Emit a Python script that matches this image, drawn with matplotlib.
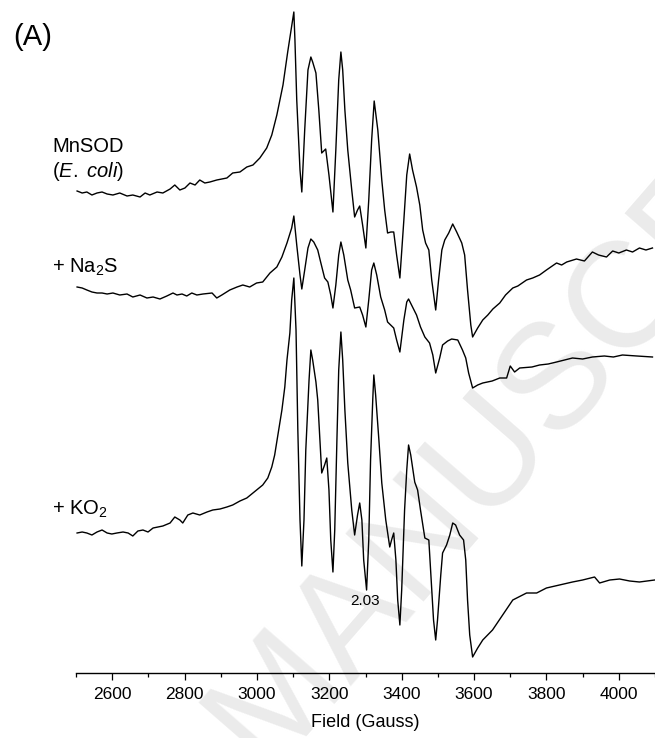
import matplotlib
matplotlib.use("Agg")
import matplotlib.pyplot as plt
import numpy as np

plt.rcParams['font.family'] = ['Liberation Sans', 'DejaVu Sans']
plt.rcParams['mathtext.fontset'] = 'custom'
plt.rcParams['mathtext.rm'] = 'Liberation Sans'
plt.rcParams['mathtext.it'] = 'Liberation Sans:italic'
plt.rcParams['mathtext.default'] = 'regular'

# ---------------- data (Field in Gauss, intensity in arbitrary units) ----------------
field_mnsod = [2503, 2517, 2530, 2544, 2558, 2572, 2586, 2602, 2621, 2641,
               2657, 2677, 2691, 2704, 2724, 2740, 2760, 2773, 2787, 2801,
               2815, 2829, 2842, 2856, 2870, 2889, 2917, 2933, 2953, 2972,
               2989, 3008, 3027, 3041, 3055, 3072, 3085, 3102, 3105, 3110,
               3119, 3124, 3132, 3141, 3149, 3154, 3163, 3171, 3179, 3190,
               3199, 3210, 3218, 3226, 3232, 3237, 3243, 3251, 3262, 3270,
               3278, 3284, 3292, 3301, 3309, 3317, 3324, 3334, 3345, 3353,
               3361, 3370, 3378, 3386, 3395, 3406, 3414, 3422, 3430, 3441,
               3450, 3458, 3466, 3475, 3483, 3494, 3502, 3511, 3519, 3530,
               3541, 3552, 3566, 3574, 3582, 3591, 3596, 3610, 3624, 3638,
               3652, 3671, 3687, 3707, 3721, 3745, 3762, 3781, 3800, 3828,
               3842, 3856, 3883, 3905, 3927, 3944, 3966, 3983, 4000, 4021,
               4038, 4057, 4075, 4093]
int_mnsod = [0, -2, -1, -4, -2, -1, -3, -4, -2, -5,
             -4, -6, -2, -4, -1, -2, 2, 6, 1, 3,
             8, 6, 11, 8, 9, 11, 13, 18, 19, 24,
             26, 33, 43, 56, 76, 106, 139, 179, 151, 91,
             21, -1, 61, 121, 134, 129, 118, 81, 38, 42,
             16, -21, 41, 111, 139, 121, 81, 41, 1, -26,
             -19, -15, -34, -57, -9, 51, 90, 61, 11, -19,
             -42, -41, -41, -64, -87, -29, 16, 37, 21, 4,
             -14, -39, -52, -59, -89, -119, -89, -59, -49, -42,
             -33, -41, -52, -64, -99, -134, -146, -137, -129, -124,
             -118, -112, -104, -97, -95, -89, -87, -84, -79, -72,
             -74, -71, -68, -70, -61, -64, -66, -60, -62, -59,
             -61, -57, -59, -57]

field_na2s = [2503, 2517, 2530, 2544, 2558, 2572, 2586, 2602, 2621, 2641,
              2657, 2677, 2696, 2713, 2732, 2751, 2768, 2779, 2793, 2806,
              2820, 2834, 2851, 2876, 2889, 2903, 2925, 2945, 2961, 2980,
              2999, 3016, 3036, 3055, 3069, 3083, 3096, 3102, 3110, 3119,
              3124, 3132, 3141, 3149, 3157, 3168, 3176, 3187, 3196, 3204,
              3210, 3218, 3226, 3232, 3240, 3251, 3259, 3270, 3284, 3292,
              3301, 3309, 3317, 3323, 3331, 3342, 3353, 3361, 3378, 3386,
              3395, 3406, 3414, 3419, 3430, 3441, 3452, 3464, 3477, 3486,
              3494, 3505, 3513, 3527, 3538, 3555, 3568, 3577, 3585, 3596,
              3610, 3624, 3650, 3671, 3690, 3700, 3712, 3726, 3760, 3781,
              3805, 3828, 3850, 3872, 3900, 3927, 3960, 3985, 4010, 4050,
              4093]
int_na2s = [0, -1, -3, -5, -6, -6, -7, -6, -8, -7,
            -10, -8, -11, -10, -12, -9, -6, -8, -7, -9,
            -6, -8, -7, -6, -11, -8, -3, 0, 2, 0,
            4, 5, 14, 20, 30, 44, 59, 71, 42, 12,
            -2, 17, 39, 48, 45, 37, 25, 9, 5, -8,
            -21, 2, 32, 45, 32, 7, -3, -21, -20, -28,
            -40, -13, 17, 24, 12, -10, -23, -35, -41, -53,
            -65, -33, -15, -12, -20, -28, -40, -50, -56, -68,
            -86, -71, -58, -54, -52, -53, -63, -71, -86, -101,
            -98, -96, -94, -91, -91, -79, -85, -81, -80, -78,
            -77, -75, -73, -71, -72, -70, -69, -70, -68, -69,
            -70]

field_ko2 = [2503, 2517, 2530, 2544, 2558, 2572, 2586, 2599, 2613, 2630,
             2644, 2657, 2671, 2685, 2699, 2713, 2726, 2740, 2760, 2773,
             2787, 2795, 2809, 2823, 2842, 2862, 2878, 2898, 2917, 2933,
             2953, 2972, 2989, 3003, 3016, 3030, 3041, 3049, 3058, 3069,
             3077, 3083, 3091, 3096, 3102, 3108, 3113, 3119, 3124, 3130,
             3135, 3144, 3149, 3154, 3163, 3168, 3174, 3179, 3187, 3193,
             3199, 3204, 3210, 3215, 3221, 3226, 3232, 3237, 3243, 3251,
             3262, 3270, 3278, 3284, 3290, 3295, 3303, 3309, 3314, 3320,
             3323, 3328, 3337, 3345, 3356, 3367, 3372, 3378, 3384, 3389,
             3395, 3400, 3408, 3414, 3419, 3425, 3436, 3444, 3452, 3464,
             3475, 3483, 3488, 3494, 3499, 3508, 3513, 3524, 3533, 3541,
             3549, 3560, 3571, 3577, 3582, 3588, 3596, 3610, 3624, 3651,
             3679, 3707, 3745, 3773, 3800, 3836, 3872, 3900, 3933, 3947,
             3975, 4002, 4030, 4057, 4099]
int_ko2 = [0, 1, 0, -2, 1, 3, 0, -1, 0, 1,
           0, -3, 2, 3, 1, 5, 6, 7, 10, 16,
           13, 10, 18, 20, 18, 21, 23, 24, 26, 28,
           32, 35, 40, 44, 48, 55, 66, 78, 98, 123,
           146, 173, 200, 233, 255, 203, 103, 13, -33, 13,
           83, 153, 183, 173, 151, 133, 93, 60, 68, 75,
           43, -7, -39, 3, 93, 163, 201, 173, 123, 70,
           23, -2, 18, 30, 13, -27, -57, -7, 73, 133,
           158, 138, 93, 50, 13, -14, -7, 0, -27, -67,
           -92, -57, 23, 63, 88, 78, 51, 43, 23, -5,
           -7, -57, -87, -107, -87, -42, -20, -12, -2, 10,
           8, -2, -7, -27, -67, -102, -124, -115, -107, -97,
           -82, -67, -60, -60, -55, -52, -49, -47, -44, -50,
           -47, -46, -48, -49, -47]

labels = ["MnSOD", "+ Na$_2$S", "+ KO$_2$"]
offsets = [482, 386, 140]          # vertical stacking of the spectra
xticks_major = [2600, 2800, 3000, 3200, 3400, 3600, 3800, 4000]
xticks_minor = [2500, 2700, 2900, 3100, 3300, 3500, 3700, 3900, 4100]

# ---------------- figure ----------------
W, H = 655, 738
fig = plt.figure(figsize=(W / 100, H / 100), dpi=100)
ax = fig.add_axes([76 / W, (H - 673) / H, (655 - 76) / W, 673 / H])
ax.patch.set_alpha(0)

# faint background watermark
ax.text(265 / W, 1 - 770 / H, "MANUSCRIPT", transform=fig.transFigure,
        fontsize=108, color='#ebebeb', rotation=49, rotation_mode='anchor',
        ha='left', va='baseline', zorder=0.5, clip_on=False)

for f, s, off in zip([field_mnsod, field_na2s, field_ko2],
                     [int_mnsod, int_na2s, int_ko2], offsets):
    ax.plot(f, np.array(s) + off, color='black', lw=1.0,
            solid_joinstyle='round', zorder=2)

ax.set_xlim(2500, 4100)
ax.set_ylim(0, 673)
ax.set_yticks([])
for sp in ['left', 'right', 'top']:
    ax.spines[sp].set_visible(False)
ax.spines['bottom'].set_linewidth(1.0)
ax.set_xticks(xticks_major)
ax.set_xticks(xticks_minor, minor=True)
ax.tick_params(axis='x', which='major', length=5, width=0.9, labelsize=12.5, pad=5)
ax.tick_params(axis='x', which='minor', length=3, width=0.9)
ax.set_xlabel("Field (Gauss)", fontsize=13, labelpad=9)

ax.text(3300, 673 - 601, "2.03", fontsize=11, ha='center', va='center', zorder=3)

fig.text(13 / W, 1 - 37 / H, "(A)", fontsize=21, ha='left', va='center')
fig.text(52 / W, 1 - 152 / H, labels[0], fontsize=14.5, ha='left', va='baseline')
fig.text(52 / W, 1 - 177 / H, r"($\mathit{E.\ coli}$)", fontsize=14.5, ha='left', va='baseline')
fig.text(52 / W, 1 - 273 / H, labels[1], fontsize=14.5, ha='left', va='baseline')
fig.text(52 / W, 1 - 515 / H, labels[2], fontsize=14.5, ha='left', va='baseline')

fig.savefig("out.png", dpi=100)
